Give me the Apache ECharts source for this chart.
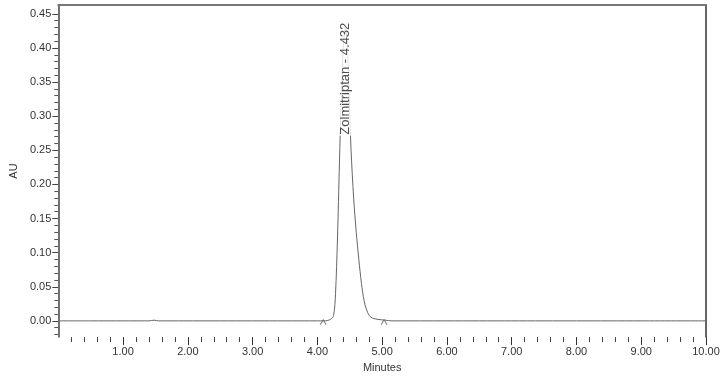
<!DOCTYPE html>
<html>
<head>
<meta charset="utf-8">
<script src="https://cdn.jsdelivr.net/npm/echarts@6/dist/echarts.min.js"></script>
<style>html,body{margin:0;padding:0;background:#fff}#c{width:725px;height:378px}</style>
</head>
<body>
<div id="c"></div>
<script>
// Chromatogram trace (minutes, AU)
var times = [0.00, 0.50, 1.00, 1.40, 1.48, 1.55, 1.65, 2.50, 3.50, 4.00, 4.10, 4.20, 4.25, 4.28, 4.31, 4.34, 4.37, 4.40, 4.43, 4.46, 4.49, 4.52, 4.56, 4.60, 4.64, 4.68, 4.72, 4.76, 4.80, 4.85, 4.95, 5.05, 5.15, 6.00, 7.00, 8.00, 9.00, 10.00];
var au    = [0.000, 0.000, 0.000, 0.000, 0.001, 0.000, 0.000, 0.000, 0.000, 0.000, 0.000, 0.002, 0.008, 0.040, 0.120, 0.230, 0.330, 0.400, 0.430, 0.410, 0.330, 0.250, 0.180, 0.130, 0.090, 0.055, 0.030, 0.016, 0.008, 0.004, 0.002, 0.001, 0.000, 0.000, 0.000, 0.000, 0.000, 0.000];
// Integration markers
var markerTimes = [4.09, 5.03];
var markerAU = [-0.002, -0.002];
// Peak label
var peakName = "Zolmitriptan - 4.432";
var peakLabelPos = [4.43, 0.355];
// Ticks
var xMajor = [1, 2, 3, 4, 5, 6, 7, 8, 9, 10];
var xMinor = [0.2, 0.4, 0.6, 0.8, 1.2, 1.4, 1.6, 1.8, 2.2, 2.4, 2.6, 2.8, 3.2, 3.4, 3.6, 3.8, 4.2, 4.4, 4.6, 4.8, 5.2, 5.4, 5.6, 5.8, 6.2, 6.4, 6.6, 6.8, 7.2, 7.4, 7.6, 7.8, 8.2, 8.4, 8.6, 8.8, 9.2, 9.4, 9.6, 9.8];
var yMajor = [0.00, 0.05, 0.10, 0.15, 0.20, 0.25, 0.30, 0.35, 0.40, 0.45];
var yMinor = [-0.02, -0.01, 0.01, 0.02, 0.03, 0.04, 0.06, 0.07, 0.08, 0.09, 0.11, 0.12, 0.13, 0.14, 0.16, 0.17, 0.18, 0.19, 0.21, 0.22, 0.23, 0.24, 0.26, 0.27, 0.28, 0.29, 0.31, 0.32, 0.33, 0.34, 0.36, 0.37, 0.38, 0.39, 0.41, 0.42, 0.43, 0.44];

var FONT = 'Liberation Sans';
var yMin = -0.0238, yMax = 0.463;
var chart = echarts.init(document.getElementById('c'), null, {renderer: 'canvas'});
var lineData = times.map(function (t, i) { return [t, au[i]]; });
var markData = markerTimes.map(function (t, i) { return [t, markerAU[i]]; });

chart.setOption({
  animation: false,
  backgroundColor: '#fff',
  grid: {left: 46, right: 19, top: 5, bottom: 36},
  xAxis: [
    {type: 'value', min: 0, max: 10, position: 'bottom',
     name: 'Minutes', nameLocation: 'middle', nameGap: 23,
     nameTextStyle: {fontFamily: FONT, fontSize: 11, color: '#333'},
     axisLine: {show: false, onZero: false},
     axisTick: {show: true, customValues: xMajor, length: 8, lineStyle: {color: '#333', width: 1}},
     axisLabel: {customValues: xMajor, margin: 9, fontFamily: FONT, fontSize: 11, color: '#333',
                 formatter: function (v) { return v.toFixed(2); }},
     splitLine: {show: false}},
    {type: 'value', min: 0, max: 10, position: 'bottom',
     axisLine: {show: false, onZero: false},
     axisTick: {show: true, customValues: xMinor, length: 5, lineStyle: {color: '#444', width: 1}},
     axisLabel: {show: false}, splitLine: {show: false}},
    {type: 'value', min: 0, max: 10, position: 'top',
     axisLine: {show: true, onZero: false, lineStyle: {color: '#777', width: 2}},
     axisTick: {show: false}, axisLabel: {show: false}, splitLine: {show: false}}
  ],
  yAxis: [
    {type: 'value', min: yMin, max: yMax, position: 'left',
     name: 'AU', nameLocation: 'middle', nameGap: 39, nameRotate: 90,
     nameTextStyle: {fontFamily: FONT, fontSize: 11, color: '#333'},
     axisLine: {show: true, onZero: false, lineStyle: {color: '#444', width: 1.5}},
     axisTick: {show: true, customValues: yMajor, length: 6, lineStyle: {color: '#444'}},
     axisLabel: {customValues: yMajor, margin: 7, fontFamily: FONT, fontSize: 11, color: '#333',
                 formatter: function (v) { return v.toFixed(2); }},
     splitLine: {show: false}},
    {type: 'value', min: yMin, max: yMax, position: 'left',
     axisLine: {show: false, onZero: false},
     axisTick: {show: true, customValues: yMinor, length: 4, lineStyle: {color: '#555'}},
     axisLabel: {show: false}, splitLine: {show: false}},
    {type: 'value', min: yMin, max: yMax, position: 'right',
     axisLine: {show: true, onZero: false, lineStyle: {color: '#333', width: 1.5}},
     axisTick: {show: false}, axisLabel: {show: false}, splitLine: {show: false}}
  ],
  series: [
    {type: 'line', xAxisIndex: 0, yAxisIndex: 0, data: lineData, showSymbol: false, smooth: 0.3,
     lineStyle: {color: '#666', width: 1}, z: 2},
    {type: 'scatter', xAxisIndex: 0, yAxisIndex: 0, data: markData,
     symbol: 'path://M0,8 L4,0 L8,8', symbolSize: [6, 5],
     itemStyle: {color: 'rgba(0,0,0,0)', borderColor: '#666', borderWidth: 1}, z: 3},
    {type: 'scatter', xAxisIndex: 0, yAxisIndex: 0, data: [peakLabelPos], symbolSize: 0,
     label: {show: true, position: 'inside', rotate: 90, formatter: peakName,
             fontFamily: FONT, fontSize: 13, color: '#222', backgroundColor: '#fff', padding: [0, 1]},
     z: 5}
  ]
});
</script>
</body>
</html>
